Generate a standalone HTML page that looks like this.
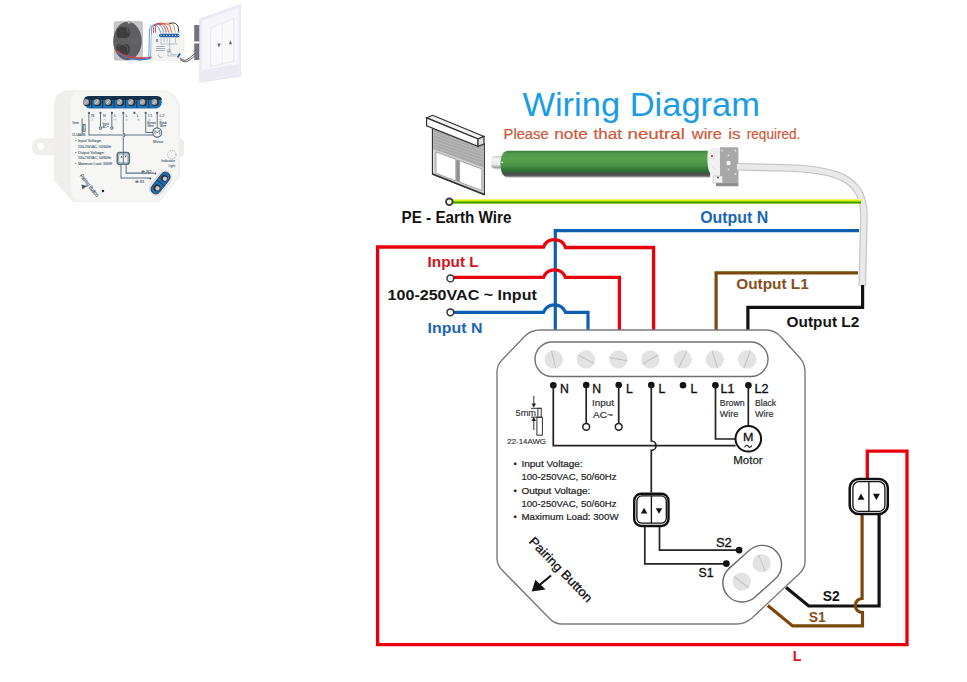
<!DOCTYPE html>
<html><head><meta charset="utf-8">
<style>
html,body{margin:0;padding:0;background:#fff;}
body{width:967px;height:682px;overflow:hidden;position:relative;}
svg{position:absolute;left:0;top:0;}
text{font-family:"Liberation Sans",sans-serif;}
.b{font-weight:bold;}
</style></head><body>
<svg width="967" height="682" viewBox="0 0 967 682">
<!-- PHOTOS (top-left) -->
<g id="photos">
<!-- small photo -->
<rect x="113.8" y="21.2" width="29" height="39.2" rx="2.5" fill="#bdbdbf"/>
<rect x="115" y="22.5" width="26.5" height="36.6" rx="2" fill="#c8c8ca"/>
<ellipse cx="127.5" cy="41" rx="14.3" ry="19.2" fill="#5f5f62"/>
<path d="M116.5 33 Q117 25 124 26 Q130 27 130 33 Q130 38 125 38 L118 38 Q116.5 37 116.5 33 Z" fill="#3e3e41"/>
<path d="M116.5 49 Q117 57 124 56 Q130 55 130 49 Q130 44 125 44 L118 44 Q116.5 45 116.5 49 Z" fill="#3e3e41"/>
<path d="M118 28 Q121 25 125 26.5 Q128.5 28 128 33" stroke="#6a6a6d" stroke-width="0.8" fill="none"/>
<path d="M118 46 Q121 43.5 125 45 Q128.5 46.5 128 51" stroke="#6a6a6d" stroke-width="0.8" fill="none"/>
<rect x="131" y="37" width="9" height="8" fill="#5d5d60"/>
<g stroke="#77777a" stroke-width="0.5"><line x1="131" y1="39" x2="140" y2="39"/><line x1="131" y1="41" x2="140" y2="41"/><line x1="131" y1="43" x2="140" y2="43"/></g>
<circle cx="129" cy="22.5" r="1.3" fill="#e0e0e0" stroke="#666" stroke-width="0.5"/>
<path d="M116 50.5 Q124 57 137 58.2 Q147 58.5 152 57" stroke="#d83a3a" stroke-width="1.8" fill="none"/>
<path d="M118 53 Q126 59 138 59.6 Q146 59.8 150 58.5" stroke="#3d80d0" stroke-width="1.5" fill="none"/>
<path d="M146 59 Q149 58 149 50 L149.5 30 Q150 25 154.5 25 Q159 25 161 34" stroke="#4a8fd8" stroke-width="0.9" fill="none"/>
<path d="M148 59 Q151 58 151 50 L151.5 29 Q152 24 157 24 Q162 24 164 34" stroke="#4a8fd8" stroke-width="0.9" fill="none"/>
<path d="M150 59 Q153 58 153 49 L153.5 28 Q154 23.5 159 23.5 Q165 23.5 166.5 34" stroke="#d93b3b" stroke-width="0.9" fill="none"/>
<path d="M152 59 Q155 57 155 48 L155.5 27.5 Q156 23 161 23 Q167 23 169 34" stroke="#d93b3b" stroke-width="0.9" fill="none"/>
<path d="M159 25 Q166 22 170 26 L172 34" stroke="#d93b3b" stroke-width="0.9" fill="none"/>
<path d="M164 24 Q171 21 174 26 L175.5 34" stroke="#c7983a" stroke-width="0.9" fill="none"/>
<path d="M169 24 Q175 21 178 26 L179 34" stroke="#222" stroke-width="0.9" fill="none"/>
<path d="M154.5 32.8 L181 32.8 Q184.1 32.8 184.1 36 L184.1 57.5 Q184.1 60.7 181 60.7 L154.8 60.7 Q151.6 60.7 151.6 57.5 L151.6 36 Q151.6 32.8 154.5 32.8 Z" fill="#f3f3f1" stroke="#e4e4e2" stroke-width="0.5"/>
<rect x="159" y="33.7" width="20.5" height="3.5" rx="1.7" fill="#1d5ea6"/>
<g fill="#dfe8f2"><circle cx="161" cy="35.4" r="0.6"/><circle cx="163.9" cy="35.4" r="0.6"/><circle cx="166.8" cy="35.4" r="0.6"/><circle cx="169.7" cy="35.4" r="0.6"/><circle cx="172.6" cy="35.4" r="0.6"/><circle cx="175.5" cy="35.4" r="0.6"/><circle cx="178.2" cy="35.4" r="0.6"/></g>
<g stroke="#6f8494" stroke-width="0.45" fill="none">
<path d="M161 38 L161 44 L177.5 44 M164 38 L164 42 M167 38 L167 42 M169.7 38 L169.7 53 M175.5 38 L175.5 43 M169.7 51 L168 51 L168 56 L176 56 M171 51 L171 54.5 L177 54.5"/>
<circle cx="169" cy="50.5" r="1.4"/>
</g>
<g fill="#8a9aa6"><rect x="156" y="46" width="9" height="0.8"/><rect x="156" y="48" width="9" height="0.8"/><rect x="156" y="50" width="9" height="0.8"/><rect x="156" y="39" width="2" height="3"/></g>
<path d="M158 55 l2.5 3 l1.5 -1.5" stroke="#6f8494" stroke-width="0.6" fill="none"/>
<path d="M177.5 57.5 l2.5 -4" stroke="#1d5ea6" stroke-width="1.8"/>
<path d="M180 58 Q184 62 188 59 Q192 56 195.5 53" stroke="#333" stroke-width="0.8" fill="none"/>
<path d="M180 59.5 Q185 63.5 189 60.5 Q193 57.5 195.5 55" stroke="#333" stroke-width="0.8" fill="none"/>
<rect x="194.2" y="25" width="5.8" height="16.5" fill="#74747c"/>
<rect x="194.2" y="43.5" width="5.8" height="16.5" fill="#74747c"/>
<path d="M199.7 19 L240.6 4.6 L240.6 76 L199.7 82.5 Z" fill="#ecebf3" stroke="#e2e1ec" stroke-width="0.8"/>
<path d="M202 21 L238.5 8 L238.5 73.5 L202 80 Z" fill="#f5f5fa"/>
<path d="M210.7 27.7 L233.8 18.5 L233.8 61.3 L210.7 66.6 Z" fill="#f9f9fc" stroke="#e0dfea" stroke-width="0.7"/>
<path d="M202 70 L238.5 64 L238.5 73.5 L202 80 Z" fill="#ebeaf3"/>
<line x1="222.3" y1="23.2" x2="222.3" y2="64" stroke="#e6e5ee" stroke-width="0.6"/>
<path d="M217.4 43.6 L220.6 43.6 L219 47.6 Z" fill="#6a6a70"/>
<path d="M228.9 44.2 L232.1 44.2 L230.5 40.2 Z" fill="#6a6a70"/>
<!-- big photo -->
<path d="M40.5 138.2 L57 138.2 L57 155.2 L40.5 155.2 Q31.8 155.2 31.8 146.7 Q31.8 138.2 40.5 138.2 Z" fill="#f0efed"/>
<circle cx="40.8" cy="146.2" r="4.2" fill="#fff" stroke="#e6e5e3" stroke-width="0.8"/>
<rect x="176" y="138.5" width="8" height="18" rx="3.5" fill="#eeedeb"/>
<path d="M70 90.2 L160 90.2 Q176 90.2 180 106 L180 176.5 L159 202 L73 202 L53.8 180 L53.8 106 Q54 90.2 70 90.2 Z" fill="#efeeec"/>
<path d="M78 91.5 L160 91.5 Q174.5 91.5 178.5 107 L178.5 176 L158.5 201 L78 201 Q71 196 70.5 190 L70.5 104 Q71 91.5 78 91.5 Z" fill="#f6f6f4"/>
<rect x="84" y="96" width="77.8" height="12.6" rx="6.3" fill="#1a72bb"/>
<path d="M90 96 L156 96 Q161.8 96 161.8 100 L84 100 Q84 96 90 96 Z" fill="#15324d"/>
<g stroke="#132a40" stroke-width="0.9">
<line x1="91.8" y1="96.5" x2="91.8" y2="108"/><line x1="102.7" y1="96.5" x2="102.7" y2="108"/><line x1="114.1" y1="96.5" x2="114.1" y2="108"/><line x1="125.5" y1="96.5" x2="125.5" y2="108"/><line x1="136.9" y1="96.5" x2="136.9" y2="108"/><line x1="148.7" y1="96.5" x2="148.7" y2="108"/>
</g>
<g fill="#2b2b2b">
<circle cx="86.9" cy="102.4" r="3.7"/><circle cx="97.6" cy="102.4" r="3.7"/><circle cx="108.8" cy="102.4" r="3.7"/><circle cx="120.4" cy="102.4" r="3.7"/><circle cx="131.6" cy="102.4" r="3.7"/><circle cx="143.2" cy="102.4" r="3.7"/><circle cx="155.3" cy="102.4" r="3.7"/>
</g>
<g fill="#a3a3a3">
<circle cx="86.1" cy="102" r="2.9"/><circle cx="96.8" cy="102" r="2.9"/><circle cx="108" cy="102" r="2.9"/><circle cx="119.6" cy="102" r="2.9"/><circle cx="130.8" cy="102" r="2.9"/><circle cx="142.4" cy="102" r="2.9"/><circle cx="154.5" cy="102" r="2.9"/>
</g>
<g stroke="#e6e6e6" stroke-width="0.7">
<line x1="84.3" y1="104" x2="88" y2="100"/><line x1="95" y1="104" x2="98.7" y2="100"/><line x1="106.2" y1="104" x2="109.9" y2="100"/><line x1="117.8" y1="104" x2="121.5" y2="100"/><line x1="129" y1="104" x2="132.7" y2="100"/><line x1="140.6" y1="104" x2="144.3" y2="100"/><line x1="152.7" y1="104" x2="156.4" y2="100"/>
</g>
<g transform="translate(-104.7 -27.7) scale(0.35 0.365)" stroke="#5a6f80" fill="none" stroke-width="2.8">
<path d="M553.3 385 L553.3 445.7 L735.6 445.7"/>
<path d="M586.2 385 L586.2 423.3"/>
<path d="M618.7 385 L618.7 423.3"/>
<path d="M651.3 385 L651.3 441 A4.7 4.7 0 0 1 651.3 450.4 L651.3 492.5"/>
<path d="M715.5 385 L715.5 439 L735.6 439"/>
<path d="M748.3 385 L748.3 426.3"/>
<circle cx="748.2" cy="439" r="12.6" stroke-width="3.5"/>
<rect x="634.2" y="493.7" width="34.3" height="32.3" rx="7" stroke-width="4.5"/>
<rect x="638.2" y="497.7" width="26.3" height="24.3" rx="4" stroke-width="1.8"/>
<line x1="651.4" y1="495.9" x2="651.4" y2="523.2"/>
<path d="M644.8 527 L644.8 563.8 L726.4 563.8"/>
<path d="M659.5 527 L659.5 550.2 L739.1 550.2"/>
<path d="M533.8 400 L533.8 440 M536.9 417.2 h5.5 v18 h-5.5z"/>
<circle cx="790" cy="499.5" r="12" stroke-dasharray="3.5 3.5" stroke="#7e8e9b" stroke-width="2.2"/>
<circle cx="586.2" cy="426.8" r="3.6" fill="#f6f6f4"/><circle cx="618.7" cy="426.8" r="3.6" fill="#f6f6f4"/>
<path d="M742 444 L742 433 L748.2 440 L754.4 433 L754.4 444" stroke-width="2.2"/>
</g>
<g fill="#4a5f70">
<circle cx="89" cy="112.9" r="1.1"/><circle cx="100.5" cy="112.9" r="1.1"/><circle cx="111.9" cy="112.9" r="1.1"/><circle cx="123.3" cy="112.9" r="1.1"/><circle cx="134.4" cy="112.9" r="1.1"/><circle cx="145.7" cy="112.9" r="1.1"/><circle cx="157.2" cy="112.9" r="1.1"/>
<path d="M120.3 157.6 h2.4 l-1.2 -2 z M124.5 155.6 h2.4 l-1.2 2 z"/>
</g>
<g fill="#4a5f70" stroke="#4a5f70" stroke-width="0.1" font-size="4.2" font-family="Liberation Sans">
<text x="91.3" y="116.5">N</text><text x="102.8" y="116.5">N</text><text x="114.2" y="116.5">L</text><text x="125.6" y="116.5">L</text><text x="136.8" y="116.5">L</text><text x="148" y="116.5">L1</text><text x="159.6" y="116.5">L2</text>
<g font-size="2.8" fill="#6a7c8a" stroke="none"><text x="91.2" y="120.5">①</text><text x="102.6" y="120.5">②</text><text x="114" y="120.5">③</text><text x="125.4" y="120.5">④</text><text x="136.6" y="120.5">⑤</text><text x="147.8" y="120.5">⑥</text><text x="159.4" y="120.5">⑦</text></g>
<text x="102.5" y="124.5" font-size="3">Input</text><text x="102.5" y="128" font-size="3">AC~</text>
<text x="147.3" y="123.8" font-size="3">Brown</text><text x="147.5" y="127.3" font-size="3">Wire</text>
<text x="159.5" y="123.8" font-size="3">Black</text><text x="159.7" y="127.3" font-size="3">Wire</text>
<text x="72.5" y="123.8" font-size="2.8">5mm</text><text x="72" y="135.7" font-size="2.6" textLength="13.5" lengthAdjust="spacingAndGlyphs">22-14AWG</text>
<text x="153.1" y="142.6" font-size="3.7" textLength="10.3" lengthAdjust="spacingAndGlyphs">Motor</text>
<text x="161.2" y="162.4" font-size="3.6" textLength="14" lengthAdjust="spacingAndGlyphs">Indicator</text><text x="168.5" y="166.8" font-size="3.6" textLength="6.6" lengthAdjust="spacingAndGlyphs">Light</text>
<text x="75" y="142.3" font-size="3.6">•</text><text x="77.9" y="142.3" font-size="3.6" textLength="24" lengthAdjust="spacingAndGlyphs">Input Voltage:</text>
<text x="77.9" y="148.1" font-size="3.6" textLength="33.4" lengthAdjust="spacingAndGlyphs">100-250VAC, 50/60Hz</text>
<text x="75" y="154" font-size="3.6">•</text><text x="77.9" y="154" font-size="3.6" textLength="26.5" lengthAdjust="spacingAndGlyphs">Output Voltage:</text>
<text x="77.9" y="159.4" font-size="3.6" textLength="33.4" lengthAdjust="spacingAndGlyphs">100-250VAC, 50/60Hz</text>
<text x="75" y="165.3" font-size="3.6">•</text><text x="77.9" y="165.3" font-size="3.6" textLength="34" lengthAdjust="spacingAndGlyphs">Maximum Load: 300W</text>
<text x="141.4" y="172.5" font-size="3.8" textLength="10" lengthAdjust="spacingAndGlyphs">⊕ S2</text><text x="134.8" y="183.3" font-size="3.8" textLength="10" lengthAdjust="spacingAndGlyphs">⊕ S1</text>
</g>
<circle cx="155.3" cy="173.6" r="1" fill="#4a5f70"/><circle cx="150.2" cy="178.6" r="1" fill="#4a5f70"/>
<g transform="translate(160.6 183) rotate(-52)"><rect x="-14.5" y="-7.5" width="29" height="15" rx="7.5" fill="#e2e1df"/><rect x="-12.5" y="-4.8" width="25" height="9.6" rx="4.8" fill="#1a6fb5" stroke="#0f2436" stroke-width="0.7"/><circle cx="-6" cy="0" r="3.4" fill="#2e2e2e"/><circle cx="6" cy="0" r="3.4" fill="#2e2e2e"/><circle cx="-6" cy="0.8" r="2.2" fill="#c9c9c9"/><circle cx="6" cy="0.8" r="2.2" fill="#c9c9c9"/><line x1="0" y1="-4.5" x2="0" y2="4.5" stroke="#0f2436" stroke-width="0.7"/></g>
<text x="0" y="0" font-size="5.6" fill="#3c5264" stroke="#3c5264" stroke-width="0.15" transform="translate(79.5 176) rotate(52)" textLength="27" lengthAdjust="spacingAndGlyphs">Pairing Button</text>
<path d="M81.5 184.5 L86.5 186 L82.5 189.5 Z" fill="#3c5264"/>
<circle cx="103" cy="191" r="1.2" fill="#222"/>
</g>

<!-- TITLE -->
<text x="522.4" y="116" font-size="33" fill="#1a9ce6" textLength="237.6" lengthAdjust="spacingAndGlyphs">Wiring Diagram</text>
<g font-size="15.3" fill="#cf5638" stroke="#cf5638" stroke-width="0.2"><text x="503.6" y="138.5" textLength="45.0" lengthAdjust="spacingAndGlyphs">Please</text><text x="554.3" y="138.5" textLength="33.5" lengthAdjust="spacingAndGlyphs">note</text><text x="593.4" y="138.5" textLength="28.5" lengthAdjust="spacingAndGlyphs">that</text><text x="627.5" y="138.5" textLength="57.3" lengthAdjust="spacingAndGlyphs">neutral</text><text x="691.8" y="138.5" textLength="30.2" lengthAdjust="spacingAndGlyphs">wire</text><text x="728.2" y="138.5" textLength="12.4" lengthAdjust="spacingAndGlyphs">is</text><text x="746.8" y="138.5" textLength="53.5" lengthAdjust="spacingAndGlyphs">required.</text></g>

<!-- shutter + tube motor -->
<g id="shutter">
<path d="M432.5 127.8 L484.3 144 L484.3 194.5 L432.5 174 Z" fill="#fff" stroke="#333" stroke-width="1.3"/>
<path d="M433.3 128.5 L483.5 144.8 L483.5 167.4 L433.3 148.9 Z" fill="#a9a9a9"/>
<g stroke="#c4c4c4" stroke-width="0.6">
<line x1="433.3" y1="132" x2="483.5" y2="148.5"/><line x1="433.3" y1="135" x2="483.5" y2="151.5"/><line x1="433.3" y1="138" x2="483.5" y2="154.5"/><line x1="433.3" y1="141" x2="483.5" y2="157.5"/><line x1="433.3" y1="144" x2="483.5" y2="160.5"/><line x1="433.3" y1="147" x2="483.5" y2="163.5"/>
</g>
<path d="M434 149.5 L483 167.8 L483 170 L434 151.7 Z" fill="#8a8a8a"/>
<path d="M434 149.5 L483.5 167.8 L483.5 194 L434 174 Z" fill="#d0d0d0"/>
<path d="M436 152 L455.8 159.3 L455.8 180.8 L436 173.3 Z" fill="#fff" stroke="#8a8a8a" stroke-width="0.7"/>
<path d="M459.6 160.7 L481.8 168.9 L481.8 190.4 L459.6 182.2 Z" fill="#fff" stroke="#8a8a8a" stroke-width="0.7"/>
<path d="M456.3 159.5 L459.1 160.5 L459.1 182 L456.3 181 Z" fill="#8f8f8f"/>
<path d="M432.5 174 L484.3 194.5" stroke="#333" stroke-width="1.6"/>
<path d="M432.5 115.3 L484 136.4 L478 139 L426.6 117.9 Z" fill="#f2f2f2" stroke="#333" stroke-width="1.2"/>
<path d="M426.6 117.9 L478 139 L478 146.3 L426.6 125.8 Z" fill="#fff" stroke="#333" stroke-width="1.2"/>
<path d="M478 139 L484 136.4 L484 144 L478 146.3 Z" fill="#ddd" stroke="#333" stroke-width="1.2"/>
</g>
<g id="tube">
<defs>
<linearGradient id="gt" x1="0" y1="0" x2="0" y2="1">
<stop offset="0" stop-color="#3d7f41"/><stop offset="0.1" stop-color="#50994a"/><stop offset="0.3" stop-color="#58a34e"/><stop offset="0.55" stop-color="#4a9244"/><stop offset="0.76" stop-color="#2e6c34"/><stop offset="0.84" stop-color="#44504a"/><stop offset="0.92" stop-color="#555"/><stop offset="1" stop-color="#b0b0b0"/>
</linearGradient>
<linearGradient id="gp" x1="0" y1="0" x2="1" y2="0">
<stop offset="0" stop-color="#8e8e8e"/><stop offset="0.5" stop-color="#a6a6a6"/><stop offset="1" stop-color="#8a8a8a"/>
</linearGradient>
</defs>
<defs><linearGradient id="gc" x1="0" y1="0" x2="0" y2="1"><stop offset="0" stop-color="#d0d0d0"/><stop offset="0.3" stop-color="#f6f6f6"/><stop offset="0.7" stop-color="#e8e8e8"/><stop offset="1" stop-color="#8a8a8a"/></linearGradient></defs>
<path d="M495 156 L503 156 L503 168.5 L495 168.5 Q490.5 168.5 490.5 162.2 Q490.5 156 495 156 Z" fill="url(#gc)"/>
<path d="M509 150.8 L710.2 150.8 L710.2 177.5 L509 177.5 Q500.5 177.5 500.5 164 Q500.5 150.8 509 150.8 Z" fill="url(#gt)"/><circle cx="502.3" cy="162.3" r="0.9" fill="#dfe"/>
<path d="M707.8 150.5 Q712 147.5 720 147.5 L720 176 L712 176 Q706 170 707.8 150.5 Z" fill="#f0f0f0"/>
<circle cx="712" cy="156" r="1" fill="#b02030"/>
<path d="M711 159 l4 -3 M712 166 l3 3" stroke="#c9c9c9" stroke-width="0.6"/>
<rect x="713" y="176" width="9.5" height="7" fill="#f2f2f2" stroke="#aaa" stroke-width="0.5"/>
<circle cx="718" cy="177.5" r="1" fill="#555"/>
<path d="M720 147.3 L737 147.3 Q738.4 147.3 738.4 149 L738.4 184 Q738.4 186 736 186 L716 186 L716 183 L722.5 183 L722.5 176 L720 176 Z" fill="#a8a8a8"/>
<rect x="716" y="183.2" width="22.4" height="3" fill="#8c8c8c"/>
<circle cx="722" cy="150.5" r="0.9" fill="#e6e6e6"/><circle cx="735.5" cy="150.5" r="0.9" fill="#e6e6e6"/><circle cx="735.5" cy="174" r="0.9" fill="#e6e6e6"/>
<circle cx="728.5" cy="163" r="2.2" fill="#f4f4f4"/><circle cx="728.5" cy="155.5" r="0.9" fill="#ddd"/><circle cx="728.5" cy="169.5" r="0.9" fill="#ddd"/>
</g>

<!-- grey cable -->
<path d="M737 166.8 L790 168 C840 170 863 180 864 214 L862.3 286" fill="none" stroke="#c2c2c2" stroke-width="7.6"/>
<path d="M737 166.8 L790 168 C840 170 863 180 864 214 L862.3 286" fill="none" stroke="#e9e9e9" stroke-width="5.4"/>

<!-- PE earth wire -->
<line x1="453" y1="201.6" x2="861" y2="201.6" stroke="#f2f7a0" stroke-width="5"/>
<line x1="453" y1="201.5" x2="861" y2="201.5" stroke="#dcef00" stroke-width="3.4"/>
<line x1="453" y1="202.5" x2="861" y2="202.5" stroke="#3d9b12" stroke-width="1.8"/>
<circle cx="449.3" cy="201.8" r="3.3" fill="#fff" stroke="#3a3a3a" stroke-width="1.8"/>
<text class="b" x="401.5" y="223.4" font-size="15.8" fill="#111" textLength="110" lengthAdjust="spacingAndGlyphs">PE - Earth Wire</text>

<!-- Output N -->
<text class="b" x="700.2" y="223.1" font-size="16.2" fill="#1a66b4" textLength="68" lengthAdjust="spacingAndGlyphs">Output N</text>
<path d="M555.3 330 L555.3 230.6 L859 230.6" fill="none" stroke="#0d5fb3" stroke-width="3.2"/>

<!-- Red outer L wire -->
<path d="M653.6 330 L653.6 247.5 L565.5 247.5 A11.8 11.8 0 0 0 543.5 247 L377.6 247 L377.6 644.7 L907 644.7 L907 451.2 L867.3 451.2 L867.3 478" fill="none" stroke="#e8000b" stroke-width="3.3"/>
<!-- Input L -->
<text class="b" x="427.6" y="267" font-size="14.6" fill="#d3141c" textLength="51" lengthAdjust="spacingAndGlyphs">Input L</text>
<path d="M453.8 277.4 L543.5 277.4 A11.8 11.8 0 0 1 565.5 277.4 L619.4 277.4 L619.4 330" fill="none" stroke="#e8000b" stroke-width="3.3"/>
<circle cx="450.4" cy="278.4" r="3.4" fill="#fff" stroke="#333" stroke-width="1.5"/>
<text class="b" x="387.6" y="300.3" font-size="14.8" fill="#151515" textLength="149.2" lengthAdjust="spacingAndGlyphs">100-250VAC ~ Input</text>
<path d="M453.8 312.4 L543.5 312.4 A11.8 11.8 0 0 1 565.5 312.4 L588 312.4 L588 330" fill="none" stroke="#0d5fb3" stroke-width="3.2"/>
<circle cx="450.4" cy="312.3" r="3.4" fill="#fff" stroke="#333" stroke-width="1.5"/>
<text class="b" x="427.6" y="333.3" font-size="15" fill="#1a66b4" textLength="54.9" lengthAdjust="spacingAndGlyphs">Input N</text>

<!-- Output L1 brown -->
<path d="M716.1 330 L716.1 272.9 L858 272.9" fill="none" stroke="#7a480a" stroke-width="3.2"/>
<text class="b" x="736.2" y="288.8" font-size="14.8" fill="#82501a" textLength="72.5" lengthAdjust="spacingAndGlyphs">Output L1</text>
<!-- Output L2 black -->
<path d="M747.9 330 L747.9 307.4 L862.6 307.4 L862.6 285" fill="none" stroke="#111" stroke-width="3.2"/>
<text class="b" x="786.6" y="326.7" font-size="14.6" fill="#151515" textLength="72.7" lengthAdjust="spacingAndGlyphs">Output L2</text>

<!-- MODULE BOX -->
<path d="M540 330 L766 330 Q775 330 781 337 L800 358 Q805 364 805 372 L805 562 Q805 568 800 573 L752 618 Q745 624 737 624 L562 624 Q555 624 550 619 L502 570 Q497 565 497 558 L497 372 Q497 365 502 360 L525 336 Q531 330 540 330 Z" fill="#fff" stroke="#7a7a7a" stroke-width="1.4"/>
<rect x="535" y="342" width="233" height="34.5" rx="17.25" fill="#fff" stroke="#6f6f6f" stroke-width="1.4"/>
<g fill="#e3e3e3" stroke="none">
<circle cx="553.7" cy="359.4" r="9.2"/><circle cx="586" cy="359.4" r="9.2"/><circle cx="618.4" cy="359.4" r="9.2"/><circle cx="650.4" cy="359.4" r="9.2"/><circle cx="682.7" cy="359.4" r="9.2"/><circle cx="714.8" cy="359.4" r="9.2"/><circle cx="747.1" cy="359.4" r="9.2"/>
</g>
<g stroke="#c4c4c4" stroke-width="1.1">
<line x1="551.5" y1="350.5" x2="555.7" y2="368.3"/>
<line x1="578.3" y1="355.2" x2="594.3" y2="363.6"/>
<line x1="609.3" y1="357.6" x2="627.5" y2="360.8"/>
<line x1="642.5" y1="363.8" x2="658.3" y2="355"/>
<line x1="678.7" y1="367.9" x2="686.7" y2="350.9"/>
<line x1="712.1" y1="350.6" x2="717.5" y2="368.2"/>
<line x1="743.8" y1="368.2" x2="750.4" y2="350.6"/>
</g>

<!-- terminal labels -->
<g fill="#111">
<circle cx="553.3" cy="385.2" r="3.3"/><circle cx="586.2" cy="385.1" r="3.3"/><circle cx="618.7" cy="385.1" r="3.3"/><circle cx="651.3" cy="385.1" r="3.3"/><circle cx="683" cy="385.3" r="3.3"/><circle cx="715.4" cy="385.2" r="3.3"/><circle cx="748.4" cy="385.2" r="3.3"/>
</g>
<g font-size="12.2" fill="#111" stroke="#111" stroke-width="0.35">
<text x="560" y="392.8">N</text>
<text x="592.2" y="392.8">N</text>
<text x="625.9" y="392.8">L</text>
<text x="658.4" y="392.8">L</text>
<text x="690.4" y="392.8">L</text>
<text x="720.5" y="392.8" textLength="14" lengthAdjust="spacingAndGlyphs">L1</text>
<text x="754.5" y="392.8" textLength="14" lengthAdjust="spacingAndGlyphs">L2</text>
</g>
<g font-size="9" fill="#333" stroke="#333" stroke-width="0.2" lengthAdjust="spacingAndGlyphs">
<text x="592" y="405.9" textLength="22" lengthAdjust="spacingAndGlyphs">Input</text>
<text x="593" y="417.9" textLength="19.8" lengthAdjust="spacingAndGlyphs">AC~</text>
<text x="719.8" y="406.2" textLength="24.9" lengthAdjust="spacingAndGlyphs">Brown</text>
<text x="719.8" y="416.7">Wire</text>
<text x="755" y="406.2" textLength="21.2" lengthAdjust="spacingAndGlyphs">Black</text>
<text x="755" y="416.7">Wire</text>
</g>
<g fill="none" stroke="#222" stroke-width="1.7">
<path d="M553.3 385 L553.3 445.7 L735.6 445.7"/>
<path d="M586.2 385 L586.2 423.3"/>
<path d="M618.7 385 L618.7 423.3"/>
<path d="M651.3 385 L651.3 441 A4.7 4.7 0 0 1 651.3 450.4 L651.3 492.5"/>
<path d="M715.5 385 L715.5 439 L735.6 439"/>
<path d="M748.3 385 L748.3 426.3"/>
</g>
<circle cx="586.2" cy="426.8" r="3.4" fill="#fff" stroke="#222" stroke-width="1.5"/>
<circle cx="618.7" cy="426.8" r="3.4" fill="#fff" stroke="#222" stroke-width="1.5"/>
<!-- motor -->
<circle cx="748.3" cy="438.8" r="12.8" fill="#fff" stroke="#111" stroke-width="2"/>
<text x="748.2" y="440.6" font-size="11.8" fill="#111" stroke="#111" stroke-width="0.3" text-anchor="middle" textLength="10.4" lengthAdjust="spacingAndGlyphs">M</text>
<path d="M744.6 447.3 C745.8 444.8 747.4 444.8 748.2 446.3 C749 447.8 750.6 447.8 751.8 445.5" fill="none" stroke="#111" stroke-width="1.1"/>
<text x="733.3" y="464.3" font-size="10.8" fill="#222" stroke="#222" stroke-width="0.25" textLength="29.4" lengthAdjust="spacingAndGlyphs">Motor</text>

<!-- wire strip symbol -->
<g stroke="#333" stroke-width="1" fill="none">
<line x1="533.8" y1="395.6" x2="533.8" y2="405"/>
<line x1="533.8" y1="419" x2="533.8" y2="430"/>
<line x1="531" y1="408.3" x2="541" y2="408.3"/>
<line x1="531" y1="417.2" x2="537" y2="417.2"/>
<rect x="537.9" y="408.3" width="3.3" height="8.9"/>
<rect x="536.9" y="417.2" width="5.5" height="18"/>
</g>
<path d="M531.6 403.5 L536 403.5 L533.8 407.8 Z" fill="#222"/>
<path d="M531.6 421 L536 421 L533.8 416.8 Z" fill="#222"/>
<text x="515.5" y="415.7" font-size="8.5" fill="#333" stroke="#333" stroke-width="0.15" textLength="20.5" lengthAdjust="spacingAndGlyphs">5mm</text>
<text x="507.3" y="444.4" font-size="7.6" fill="#333" stroke="#333" stroke-width="0.15" textLength="38.7" lengthAdjust="spacingAndGlyphs">22-14AWG</text>

<!-- specs -->
<g font-size="9.3" fill="#222" stroke="#222" stroke-width="0.2">
<text x="513.5" y="467.2">•</text><text x="521.4" y="467.2" textLength="61.3" lengthAdjust="spacingAndGlyphs">Input Voltage:</text>
<text x="521.4" y="480.2" textLength="95.2" lengthAdjust="spacingAndGlyphs">100-250VAC, 50/60Hz</text>
<text x="513.5" y="493.7">•</text><text x="521.4" y="493.7" textLength="68.9" lengthAdjust="spacingAndGlyphs">Output Voltage:</text>
<text x="521.4" y="506.7" textLength="95.2" lengthAdjust="spacingAndGlyphs">100-250VAC, 50/60Hz</text>
<text x="513.5" y="520.2">•</text><text x="521.4" y="520.2" textLength="97.2" lengthAdjust="spacingAndGlyphs">Maximum Load: 300W</text>
</g>

<!-- internal switch -->
<rect x="634.2" y="493.7" width="34.3" height="32.3" rx="7" fill="#fff" stroke="#111" stroke-width="2.4"/>
<rect x="636.9" y="495.9" width="29.4" height="27.3" rx="5" fill="#fff" stroke="#111" stroke-width="1.3"/>
<line x1="651.4" y1="495.9" x2="651.4" y2="523.2" stroke="#111" stroke-width="1.3"/>
<path d="M640.8 513.4 L647.4 513.4 L644.1 507.8 Z" fill="#111"/>
<path d="M655.7 508.2 L662.3 508.2 L659 513.8 Z" fill="#111"/>
<g fill="none" stroke="#222" stroke-width="1.7">
<path d="M644.8 527 L644.8 563.8 L726.4 563.8"/>
<path d="M659.5 527 L659.5 550.2 L739.1 550.2"/>
</g>
<circle cx="739.1" cy="550.1" r="3.4" fill="#111"/>
<circle cx="726.3" cy="563.6" r="3.4" fill="#111"/>
<text x="716" y="547" font-size="12.8" fill="#111" stroke="#111" stroke-width="0.35" textLength="15.8" lengthAdjust="spacingAndGlyphs">S2</text>
<text x="698.6" y="576.8" font-size="12.8" fill="#111" stroke="#111" stroke-width="0.35" textLength="15" lengthAdjust="spacingAndGlyphs">S1</text>
<!-- rotated pill -->
<g transform="translate(752.2 573.7) rotate(-42)">
<rect x="-32.8" y="-19.3" width="65.6" height="38.6" rx="19.3" fill="#fff" stroke="#6a6a6a" stroke-width="1.4"/>
</g>
<circle cx="761.7" cy="563.1" r="9.2" fill="#e3e3e3"/>
<circle cx="741.7" cy="581.6" r="9.2" fill="#e3e3e3"/>
<line x1="758.6" y1="554.9" x2="765.3" y2="571.3" stroke="#c4c4c4" stroke-width="1.1"/>
<line x1="734" y1="576.5" x2="748.8" y2="587.7" stroke="#c4c4c4" stroke-width="1.1"/>

<!-- Pairing button -->
<text x="0" y="0" font-size="12.5" fill="#111" stroke="#111" stroke-width="0.3" transform="translate(528.3 542) rotate(46)" textLength="85" lengthAdjust="spacingAndGlyphs">Pairing Button</text>
<line x1="551" y1="575.5" x2="539" y2="585.5" stroke="#111" stroke-width="2.1"/>
<path d="M531.7 591.6 L535.4 579.8 L545.6 589.6 Z" fill="#111"/>

<!-- external S1/S2 wires -->
<path d="M786.1 587.4 L808.7 606 L879.1 606 L879.1 515" fill="none" stroke="#111" stroke-width="3.2"/>
<text class="b" x="822.8" y="600.6" font-size="14.2" fill="#151515" textLength="17" lengthAdjust="spacingAndGlyphs">S2</text>
<path d="M767.7 605.5 L792.6 625.9 L862.5 625.9 L862.5 612.5 A7 7 0 0 1 862.1 598.5 L862.1 515" fill="none" stroke="#7a480a" stroke-width="3.2"/>
<text class="b" x="808.8" y="622.3" font-size="14.2" fill="#83521a" textLength="17" lengthAdjust="spacingAndGlyphs">S1</text>
<text class="b" x="792.8" y="660.6" font-size="14.3" fill="#e0141c">L</text>

<!-- external switch -->
<rect x="849.7" y="479.1" width="38.1" height="34.9" rx="9" fill="#fff" stroke="#111" stroke-width="2.5"/>
<rect x="852.9" y="481.7" width="32" height="29.7" rx="6" fill="#fff" stroke="#111" stroke-width="1.3"/>
<line x1="868.9" y1="481.7" x2="868.9" y2="511.4" stroke="#111" stroke-width="1.3"/>
<path d="M857.5 499.7 L864.5 499.7 L861 493.5 Z" fill="#111"/>
<path d="M872.9 493.7 L879.9 493.7 L876.4 499.9 Z" fill="#111"/>
</svg>
</body></html>
